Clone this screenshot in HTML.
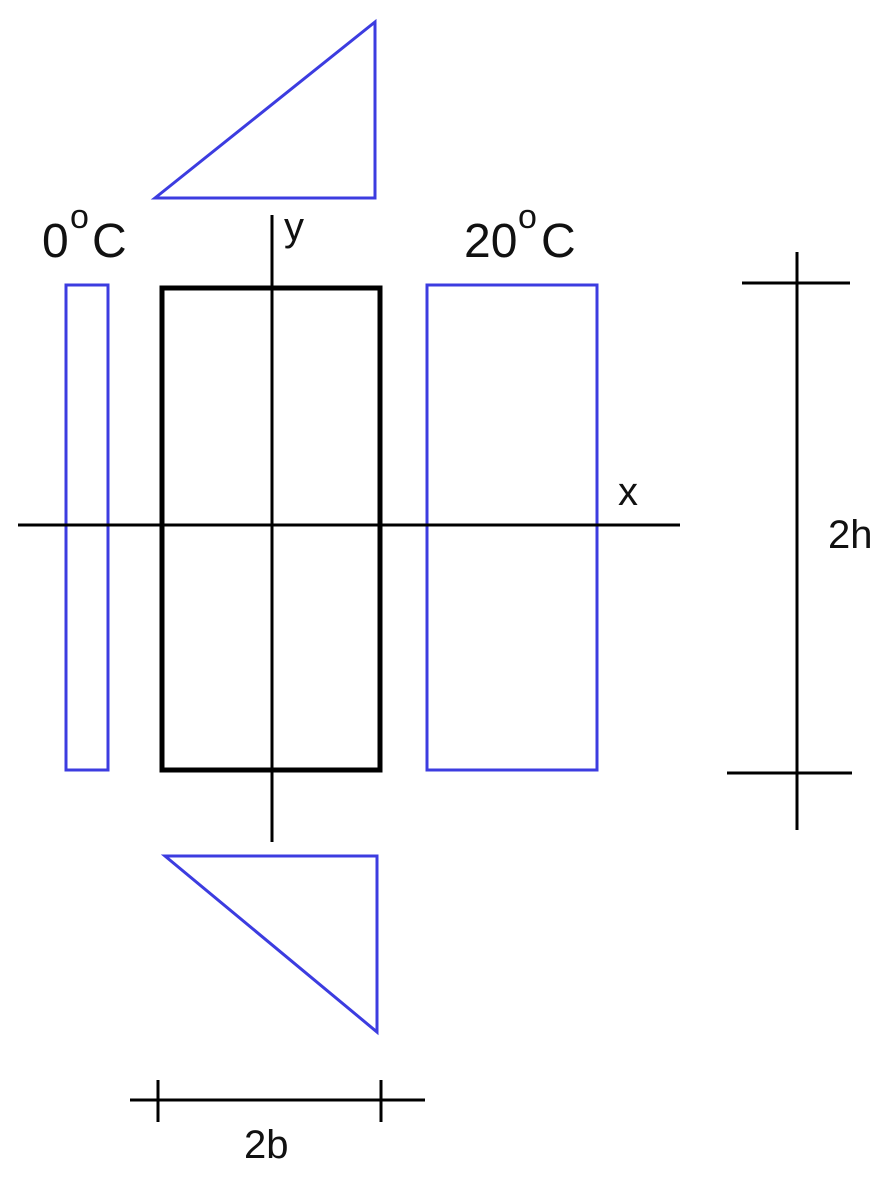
<!DOCTYPE html>
<html><head><style>
html,body{margin:0;padding:0;background:#fff;}
svg{display:block;}
text{font-family:"Liberation Sans",sans-serif;fill:#111;}
</style></head><body>
<svg width="892" height="1179" viewBox="0 0 892 1179" xmlns="http://www.w3.org/2000/svg">
<g fill="none" stroke="#3c3ce0" stroke-width="3">
<polygon points="155,198 375,22 375,198"/>
<rect x="66" y="285" width="42" height="485"/>
<rect x="427" y="285" width="170" height="485"/>
<polygon points="165,856 377,856 377,1032"/>
</g>
<g stroke="#000" stroke-width="3" fill="none">
<line x1="272" y1="215" x2="272" y2="842"/>
<line x1="18" y1="525" x2="680" y2="525"/>
<rect x="162" y="288" width="218" height="482" stroke-width="5"/>
<line x1="797" y1="252" x2="797" y2="830"/>
<line x1="742" y1="283" x2="850" y2="283"/>
<line x1="727" y1="773" x2="852" y2="773"/>
<line x1="130" y1="1100" x2="425" y2="1100"/>
<line x1="158" y1="1080" x2="158" y2="1122"/>
<line x1="381" y1="1080" x2="381" y2="1122"/>
</g>
<text x="42" y="257" font-size="48">0</text>
<text x="70" y="228" font-size="34">o</text>
<text x="92" y="257" font-size="48">C</text>
<text x="464" y="257" font-size="48">20</text>
<text x="518" y="228" font-size="34">o</text>
<text x="541" y="257" font-size="48">C</text>
<text x="284" y="240" font-size="40">y</text>
<text x="618" y="505" font-size="40">x</text>
<text x="828" y="548" font-size="40">2h</text>
<text x="244" y="1158" font-size="40">2b</text>
</svg>
</body></html>
